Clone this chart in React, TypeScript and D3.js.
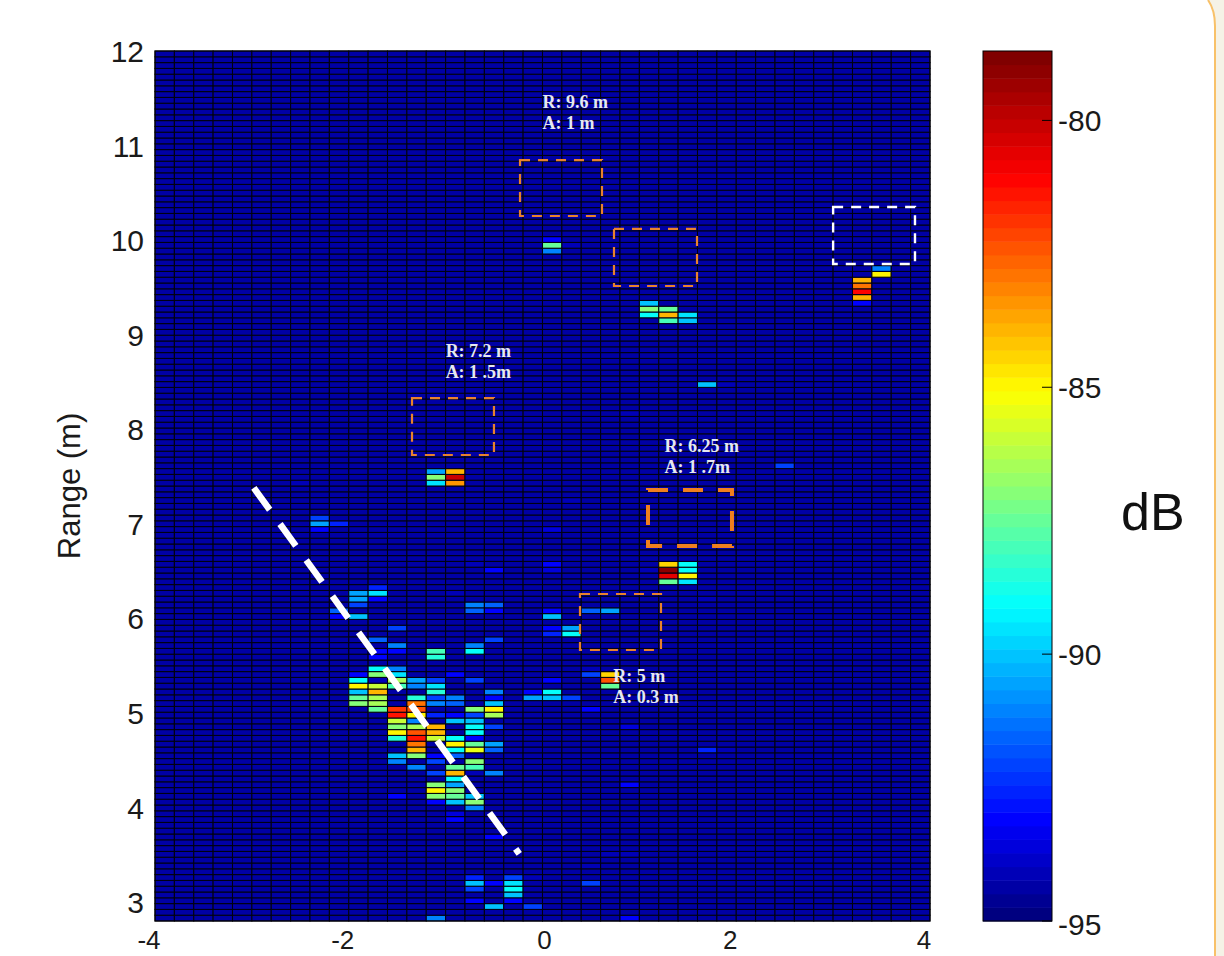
import * as d3 from "d3";

const xTicks = [-4, -2, 0, 2, 4];
const yTicks = [3, 4, 5, 6, 7, 8, 9, 10, 11, 12];
const cbTicks = [-80, -85, -90, -95];
const floorDb = -94.3;

// strong returns: [left edge of the angle bin (m), [[range (m), dB], ...]]
const returns: [number, [number, number][]][] = [
  [-2.6, [[7.43, -94]]],
  [-2.4, [[7.06, -92], [7.01, -90.5], [6.93, -93]]],
  [-2.2, [[7.01, -92.5], [6.09, -91.5], [6.01, -93]]],
  [-2.0, [[6.27, -90.5], [6.2, -90.5], [6.15, -92], [6.01, -90], [5.42, -93], [5.35, -89], [5.3, -85], [5.23, -90], [5.17, -87.5], [5.11, -87]]],
  [-1.8, [[6.33, -92.5], [6.27, -89.5], [6.2, -93], [5.77, -91.5], [5.65, -93], [5.58, -93], [5.49, -89], [5.42, -87], [5.35, -94], [5.3, -86], [5.23, -84], [5.17, -86.5], [5.11, -86.5], [5.05, -87.5]]],
  [-1.6, [[5.9, -92], [5.72, -91], [5.65, -93], [5.49, -91], [5.42, -89.5], [5.35, -86.5], [5.3, -88], [5.05, -82], [4.99, -81.5], [4.91, -86], [4.86, -87], [4.8, -85], [4.74, -88.5], [4.56, -90], [4.48, -91], [4.13, -93]]],
  [-1.4, [[5.35, -90.5], [5.3, -91], [5.17, -88.5], [5.11, -83], [5.05, -82.5], [4.99, -85], [4.91, -91], [4.86, -86.5], [4.8, -82.5], [4.74, -81.5], [4.67, -83], [4.62, -84], [4.56, -87], [4.43, -91]]],
  [-1.2, [[7.55, -90.5], [7.5, -87], [7.43, -89.5], [5.65, -88], [5.58, -88.5], [5.35, -92], [5.3, -89.5], [5.23, -88.5], [5.17, -92], [5.11, -91], [4.99, -92.5], [4.86, -84], [4.8, -84], [4.74, -86], [4.56, -93], [4.48, -92], [4.38, -92], [4.26, -87], [4.21, -85], [4.13, -87], [4.07, -93], [2.84, -91]]],
  [-1.0, [[7.55, -84], [7.5, -80], [7.43, -83.5], [6.27, -94], [5.42, -93], [5.17, -91], [5.11, -91.5], [4.99, -93], [4.91, -90], [4.74, -89], [4.67, -85], [4.62, -89], [4.56, -91.5], [4.43, -87.5], [4.38, -84], [4.31, -89], [4.26, -90.5], [4.21, -87], [4.13, -87.5], [4.07, -90], [3.95, -93.5], [3.89, -93]]],
  [-0.8, [[6.56, -94], [6.15, -91], [6.09, -91.5], [5.72, -91], [5.65, -89], [5.35, -92], [5.05, -87], [4.99, -92], [4.91, -90], [4.86, -89], [4.8, -89], [4.74, -93], [4.67, -87.5], [4.62, -85.5], [4.48, -87], [4.43, -88], [4.38, -94], [4.13, -90], [4.07, -87], [4.01, -91], [3.27, -92.5], [3.21, -90], [3.16, -92], [3.03, -93]]],
  [-0.6, [[6.5, -93], [6.15, -91.5], [6.09, -93], [5.77, -92], [5.23, -91], [5.17, -93], [5.11, -90], [5.05, -85], [4.99, -86.5], [4.86, -92], [4.67, -90.5], [4.62, -91.5], [4.38, -91], [3.7, -93], [3.21, -93], [2.97, -90]]],
  [-0.4, [[3.27, -92], [3.21, -89.5], [3.16, -89], [3.1, -90], [3.03, -93]]],
  [-0.2, [[5.23, -93], [5.17, -90.5], [3.27, -94], [2.97, -92]]],
  [0.0, [[9.94, -87.5], [10.0, -93], [9.87, -91], [6.93, -93.5], [6.59, -93], [6.52, -93.5], [6.09, -93], [6.01, -90], [5.9, -93], [5.83, -92.5], [5.35, -93], [5.23, -89], [5.17, -90]]],
  [0.2, [[9.94, -94], [7.26, -94], [5.9, -90.5], [5.83, -89], [5.17, -92]]],
  [0.4, [[6.09, -91.5], [5.49, -94], [5.42, -92], [5.05, -93], [3.36, -94], [3.21, -92]]],
  [0.6, [[6.09, -90.5], [5.42, -84.5], [5.35, -82.5], [5.3, -87.5], [3.52, -94]]],
  [0.8, [[8.15, -94], [4.86, -93.5], [4.24, -93], [3.52, -94], [2.84, -93]]],
  [1.0, [[9.31, -90], [9.26, -87], [9.2, -89], [6.52, -94]]],
  [1.2, [[9.26, -87.5], [9.2, -84], [9.13, -88], [6.59, -84.5], [6.52, -79], [6.45, -80.5], [6.4, -87.5]]],
  [1.4, [[9.2, -89.5], [9.13, -90], [6.52, -89], [6.56, -89], [6.45, -85], [6.4, -89.5]]],
  [1.6, [[8.48, -90], [6.2, -94], [4.62, -92.5]]],
  [1.8, [[8.48, -94], [4.62, -94]]],
  [2.4, [[7.62, -92]]],
  [3.2, [[9.58, -83.8], [9.5, -83], [9.45, -81], [9.38, -84], [9.31, -93]]],
  [3.4, [[9.69, -91], [9.64, -85]]],
];

// dashed boxes around the targets: [angle0, angle1, range0, range1]
const orangeBoxes = [
  [-0.232, 0.614, 10.847, 10.255],
  [0.738, 1.595, 10.118, 9.515],
  [-1.347, -0.501, 8.33, 7.728],
  [0.387, 1.223, 6.258, 5.666],
];
const thickBox = [1.089, 1.956, 7.358, 6.765];
const whiteBox = [3.0, 3.845, 10.35, 9.748];
const track = [[-2.98, 7.38], [-0.24, 3.51]];

const notes = [
  { angle: 0.0, range: 11.4, lines: ["R: 9.6 m", "A: 1 m"] },
  { angle: -1.0, range: 8.76, lines: ["R: 7.2 m", "A: 1 .5m"] },
  { angle: 1.26, range: 7.76, lines: ["R: 6.25 m", "A: 1 .7m"] },
  { angle: 0.73, range: 5.33, lines: ["R: 5 m", "A: 0.3 m"] },
];

const nCols = 40;
const nRows = 150;
const colW = 0.2;
const rowH = 9.2 / nRows;

const x = d3.scaleLinear().domain([-4, 4]).range([155, 930]);
const y = d3.scaleLinear().domain([2.8, 12]).range([921, 51]);
const cbY = d3.scaleLinear().domain([-95, -78.7]).range([921, 51]);

const jet = d3
  .scaleLinear<string>()
  .domain([0, 0.11, 0.36, 0.61, 0.86, 1])
  .range(["#000080", "#0000ff", "#00ffff", "#ffff00", "#ff0000", "#800000"])
  .clamp(true);
const dbToT = d3.scaleLinear().domain([-95, -78.7]).range([0, 1]).clamp(true);
const color = (db: number) => jet(Math.floor(dbToT(db) * 63.999) / 63);

const levels = new Map<string, number>();
returns.forEach(([angle, cells]) => {
  const col = Math.round((angle + 4) / colW);
  cells.forEach(([r, db]) => levels.set(`${col}:${Math.floor((r - 2.8) / rowH)}`, db));
});

const labelFont = "'Liberation Sans', Arial, sans-serif";

function Box({ b, stroke, w, dash }: { b: number[]; stroke: string; w: number; dash: string }) {
  return (
    <rect
      x={x(b[0])}
      y={y(b[2])}
      width={x(b[1]) - x(b[0])}
      height={y(b[3]) - y(b[2])}
      fill="none"
      stroke={stroke}
      strokeWidth={w}
      strokeDasharray={dash}
    />
  );
}

export default function App() {
  const cols = d3.range(nCols);
  const rows = d3.range(nRows);
  const barSteps = d3.range(64);
  return (
    <svg
      width={1224}
      height={956}
      style={{ position: "absolute", left: 0, top: 0, background: "#fff" }}
    >
      <path d="M1224,0 H1208 Q1215,10 1215,26 V956 H1224 Z" fill="#f5f2e6" />
      <path d="M1208,0 Q1215,10 1215,26 V956" fill="none" stroke="#f8c169" strokeWidth={2} />

      <g stroke="#000010" strokeWidth={1.05}>
        {cols.map((c) =>
          rows.map((r) => (
            <rect
              key={`${c}-${r}`}
              x={x(-4 + c * colW)}
              y={y(2.8 + (r + 1) * rowH)}
              width={x(colW) - x(0)}
              height={y(0) - y(rowH)}
              fill={color(levels.get(`${c}:${r}`) ?? floorDb)}
            />
          ))
        )}
      </g>
      <rect x={155} y={51} width={775} height={870} fill="none" stroke="#000" strokeWidth={1} />

      {orangeBoxes.map((b, i) => (
        <Box key={i} b={b} stroke="#e8822e" w={2.2} dash="10 8" />
      ))}
      <Box b={thickBox} stroke="#f07f1e" w={4} dash="20 15" />
      <Box b={whiteBox} stroke="#ffffff" w={2.4} dash="10 8" />
      <line
        x1={x(track[0][0])}
        y1={y(track[0][1])}
        x2={x(track[1][0])}
        y2={y(track[1][1])}
        stroke="#fff"
        strokeWidth={6.5}
        strokeDasharray="27 17.6"
      />

      {notes.map((n) => (
        <text
          key={n.lines[0]}
          x={x(n.angle)}
          y={y(n.range)}
          fill="#e6e8f0"
          fontFamily="'Liberation Serif', serif"
          fontWeight="bold"
          fontSize={18}
        >
          <tspan x={x(n.angle)}>{n.lines[0]}</tspan>
          <tspan x={x(n.angle)} dy={21}>
            {n.lines[1]}
          </tspan>
        </text>
      ))}

      <g fontFamily={labelFont} fontSize={30} fill="#1a1a1a">
        {yTicks.map((t) => (
          <text key={t} x={144} y={y(t) + 11} textAnchor="end">
            {t}
          </text>
        ))}
        {xTicks.map((t) => (
          <text key={t} x={x(t) + (t === 0 ? 2 : -6)} y={949} fontSize={26} textAnchor="middle">
            {t}
          </text>
        ))}
        <text transform={`translate(80,486) rotate(-90)`} fontSize={31} textAnchor="middle">
          Range (m)
        </text>
      </g>

      {barSteps.map((s) => (
        <rect
          key={s}
          x={983}
          y={cbY(-95 + ((s + 1) * 16.3) / 64)}
          width={69}
          height={870 / 64 + 0.5}
          fill={jet(s / 63)}
        />
      ))}
      <rect x={983} y={51} width={69} height={870} fill="none" stroke="#000" strokeWidth={1} />
      <g fontFamily={labelFont} fontSize={30} fill="#1a1a1a">
        {cbTicks.map((t) => (
          <g key={t}>
            <line x1={1042} x2={1052} y1={cbY(t)} y2={cbY(t)} stroke="#000" />
            <text x={1058} y={t === -95 ? cbY(t) + 14 : cbY(t) + 11}>
              {t}
            </text>
          </g>
        ))}
      </g>
      <text x={1121} y={530} fontFamily={labelFont} fontSize={52} fill="#111">
        dB
      </text>
    </svg>
  );
}
